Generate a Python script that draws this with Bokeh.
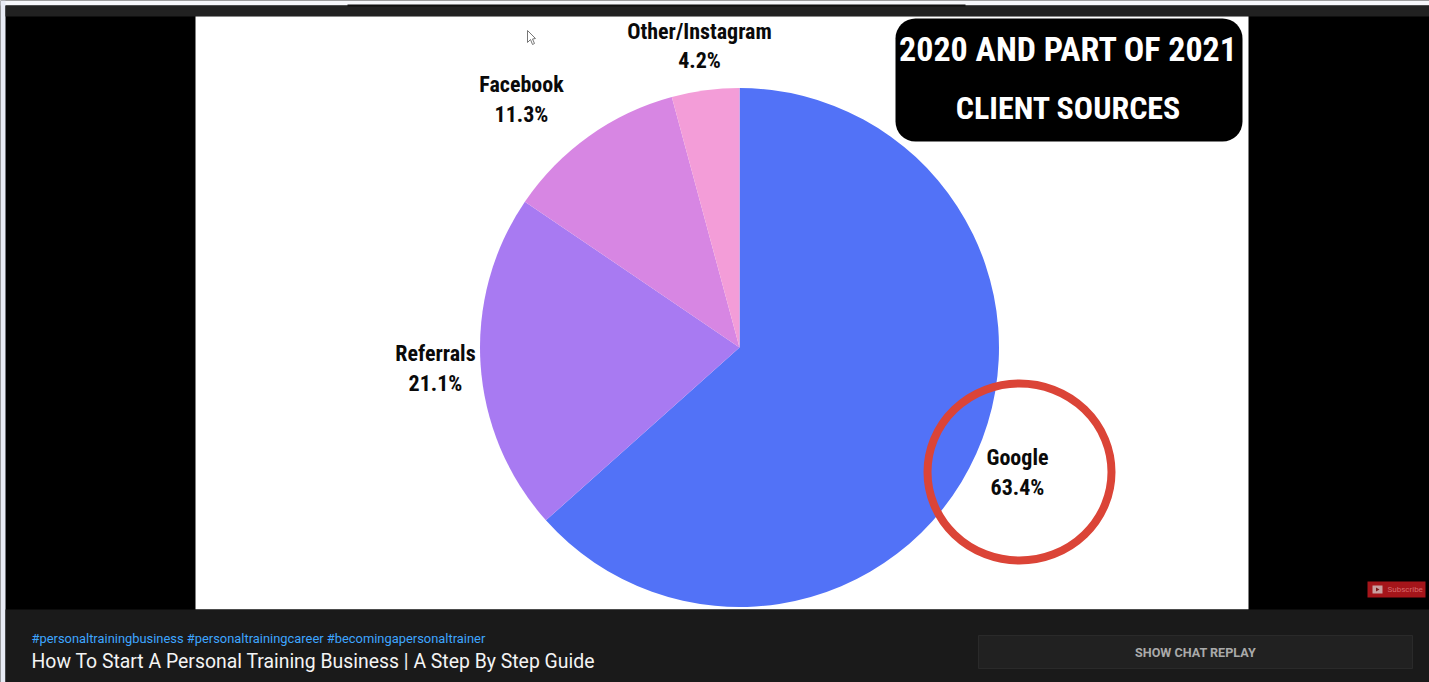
from bokeh.plotting import figure
from bokeh.models import BoxAnnotation, Range1d
from bokeh.core.properties import value
from bokeh.embed import file_html
from bokeh.resources import INLINE
import math

categories = ["Google", "Referrals", "Facebook", "Other/Instagram"]
shares = [63.4, 21.1, 11.3, 4.2]
share_labels = ["63.4%", "21.1%", "11.3%", "4.2%"]
colors = ["#5272F7", "#A87AF2", "#D786E3", "#F39DD8"]
title_lines = ["2020 AND PART OF 2021", "CLIENT SOURCES"]
hashtags = "#personaltrainingbusiness #personaltrainingcareer #becomingapersonaltrainer"
video_title = "How To Start A Personal Training Business | A Step By Step Guide"

H = 682
def Y(v):
    return H - v

p = figure(width=1429, height=682, output_backend="svg", toolbar_location=None,
           x_range=Range1d(0, 1429), y_range=Range1d(0, 682),
           min_border=0, outline_line_color=None, background_fill_color="#000000",
           border_fill_color="#000000")
p.axis.visible = False
p.grid.visible = False

# video frame
p.quad(left=[0], right=[1429], top=[Y(0)], bottom=[Y(5)], fill_color="#F6F7FB", line_color=None)
p.quad(left=[0], right=[5], top=[Y(0)], bottom=[Y(682)], fill_color="#E8EBF5", line_color=None)
p.quad(left=[5], right=[1429], top=[Y(5)], bottom=[Y(16)], fill_color="#212121", line_color=None)
p.quad(left=[347], right=[965], top=[Y(4)], bottom=[Y(6)], fill_color="#111111", line_color=None)
p.quad(left=[195], right=[1248], top=[Y(16)], bottom=[Y(609)], fill_color="#FFFFFF", line_color=None)
p.quad(left=[5], right=[1429], top=[Y(609)], bottom=[Y(682)], fill_color="#1A1A1A", line_color=None)

# pie
cx, cy, r = 739, 347, 259.5
start = math.pi / 2
for s, c in zip(shares, colors):
    end = start - s / sum(shares) * 2 * math.pi
    p.wedge(x=[cx], y=[Y(cy)], radius=r, start_angle=end, end_angle=start,
            fill_color=c, line_color=None)
    start = end

FONT = value("Roboto Condensed")
label_pos = [(1017, 457, 487), (435, 353, 383), (521, 84, 114), (699, 31, 60)]
for cat, lab, (x, y1, y2) in zip(categories, share_labels, label_pos):
    for t, y in ((cat, y1), (lab, y2)):
        p.text(x=[x], y=[Y(y)], text=[t], text_font=FONT, text_font_style="bold",
               text_font_size="22px", text_color="#0A0A0A",
               text_align="center", text_baseline="middle", level="overlay")

# title box
p.add_layout(BoxAnnotation(left=895, right=1242, top=Y(18), bottom=Y(141),
                           fill_color="#000000", fill_alpha=1, line_color=None,
                           border_radius=20, level="annotation"))
for t, y, size in zip(title_lines, (48, 107), ("34px", "32px")):
    p.text(x=[1068], y=[Y(y)], text=[t], text_font=FONT, text_font_style="bold",
           text_font_size=size, text_color="#FFFFFF",
           text_align="center", text_baseline="middle", level="overlay")

# red circle
p.ellipse(x=[1019], y=[Y(471.5)], width=184, height=177, fill_color=None,
          line_color="#DB4437", line_width=8, level="overlay")

# footer
p.text(x=[31], y=[Y(638)], text=[hashtags], text_font=value("Roboto"), text_font_size="12.9px",
       text_color="#3EA6FF", text_baseline="middle", level="overlay")
p.text(x=[31], y=[Y(661)], text=[video_title], text_font=value("Roboto"), text_font_size="19.4px",
       text_color="#F4F4F4", text_baseline="middle", level="overlay")
p.quad(left=[978], right=[1412], top=[Y(635)], bottom=[Y(668)], fill_color="#212121",
       line_color="#2A2A2A", line_width=1)
p.text(x=[1195], y=[Y(652)], text=["SHOW CHAT REPLAY"], text_font=value("Roboto"), text_font_style="bold",
       text_font_size="12.6px", text_color="#AAAAAA", text_align="center", text_baseline="middle",
       level="overlay")

# subscribe badge
p.quad(left=[1367], right=[1425], top=[Y(581)], bottom=[Y(597)], fill_color="#A5151A", line_color=None)
p.quad(left=[1372], right=[1382], top=[Y(585)], bottom=[Y(593)], fill_color="#C9A0A0", line_color=None)
p.patch(x=[1375.5, 1375.5, 1379], y=[Y(587), Y(591), Y(589)], fill_color="#7A1A1A", line_color=None)
p.text(x=[1387], y=[Y(589)], text=["Subscribe"], text_font=value("Roboto"), text_font_size="8px",
       text_color="#D9696C", text_baseline="middle", level="overlay")

# mouse cursor
p.patch(x=[527, 527, 530, 532, 534, 532, 535], y=[Y(30), Y(42), Y(39), Y(44), Y(43), Y(38.5), Y(38)],
        fill_color="#FFFFFF", line_color="#777777", line_width=1)

open("out.html", "w").write(file_html(p, INLINE))
